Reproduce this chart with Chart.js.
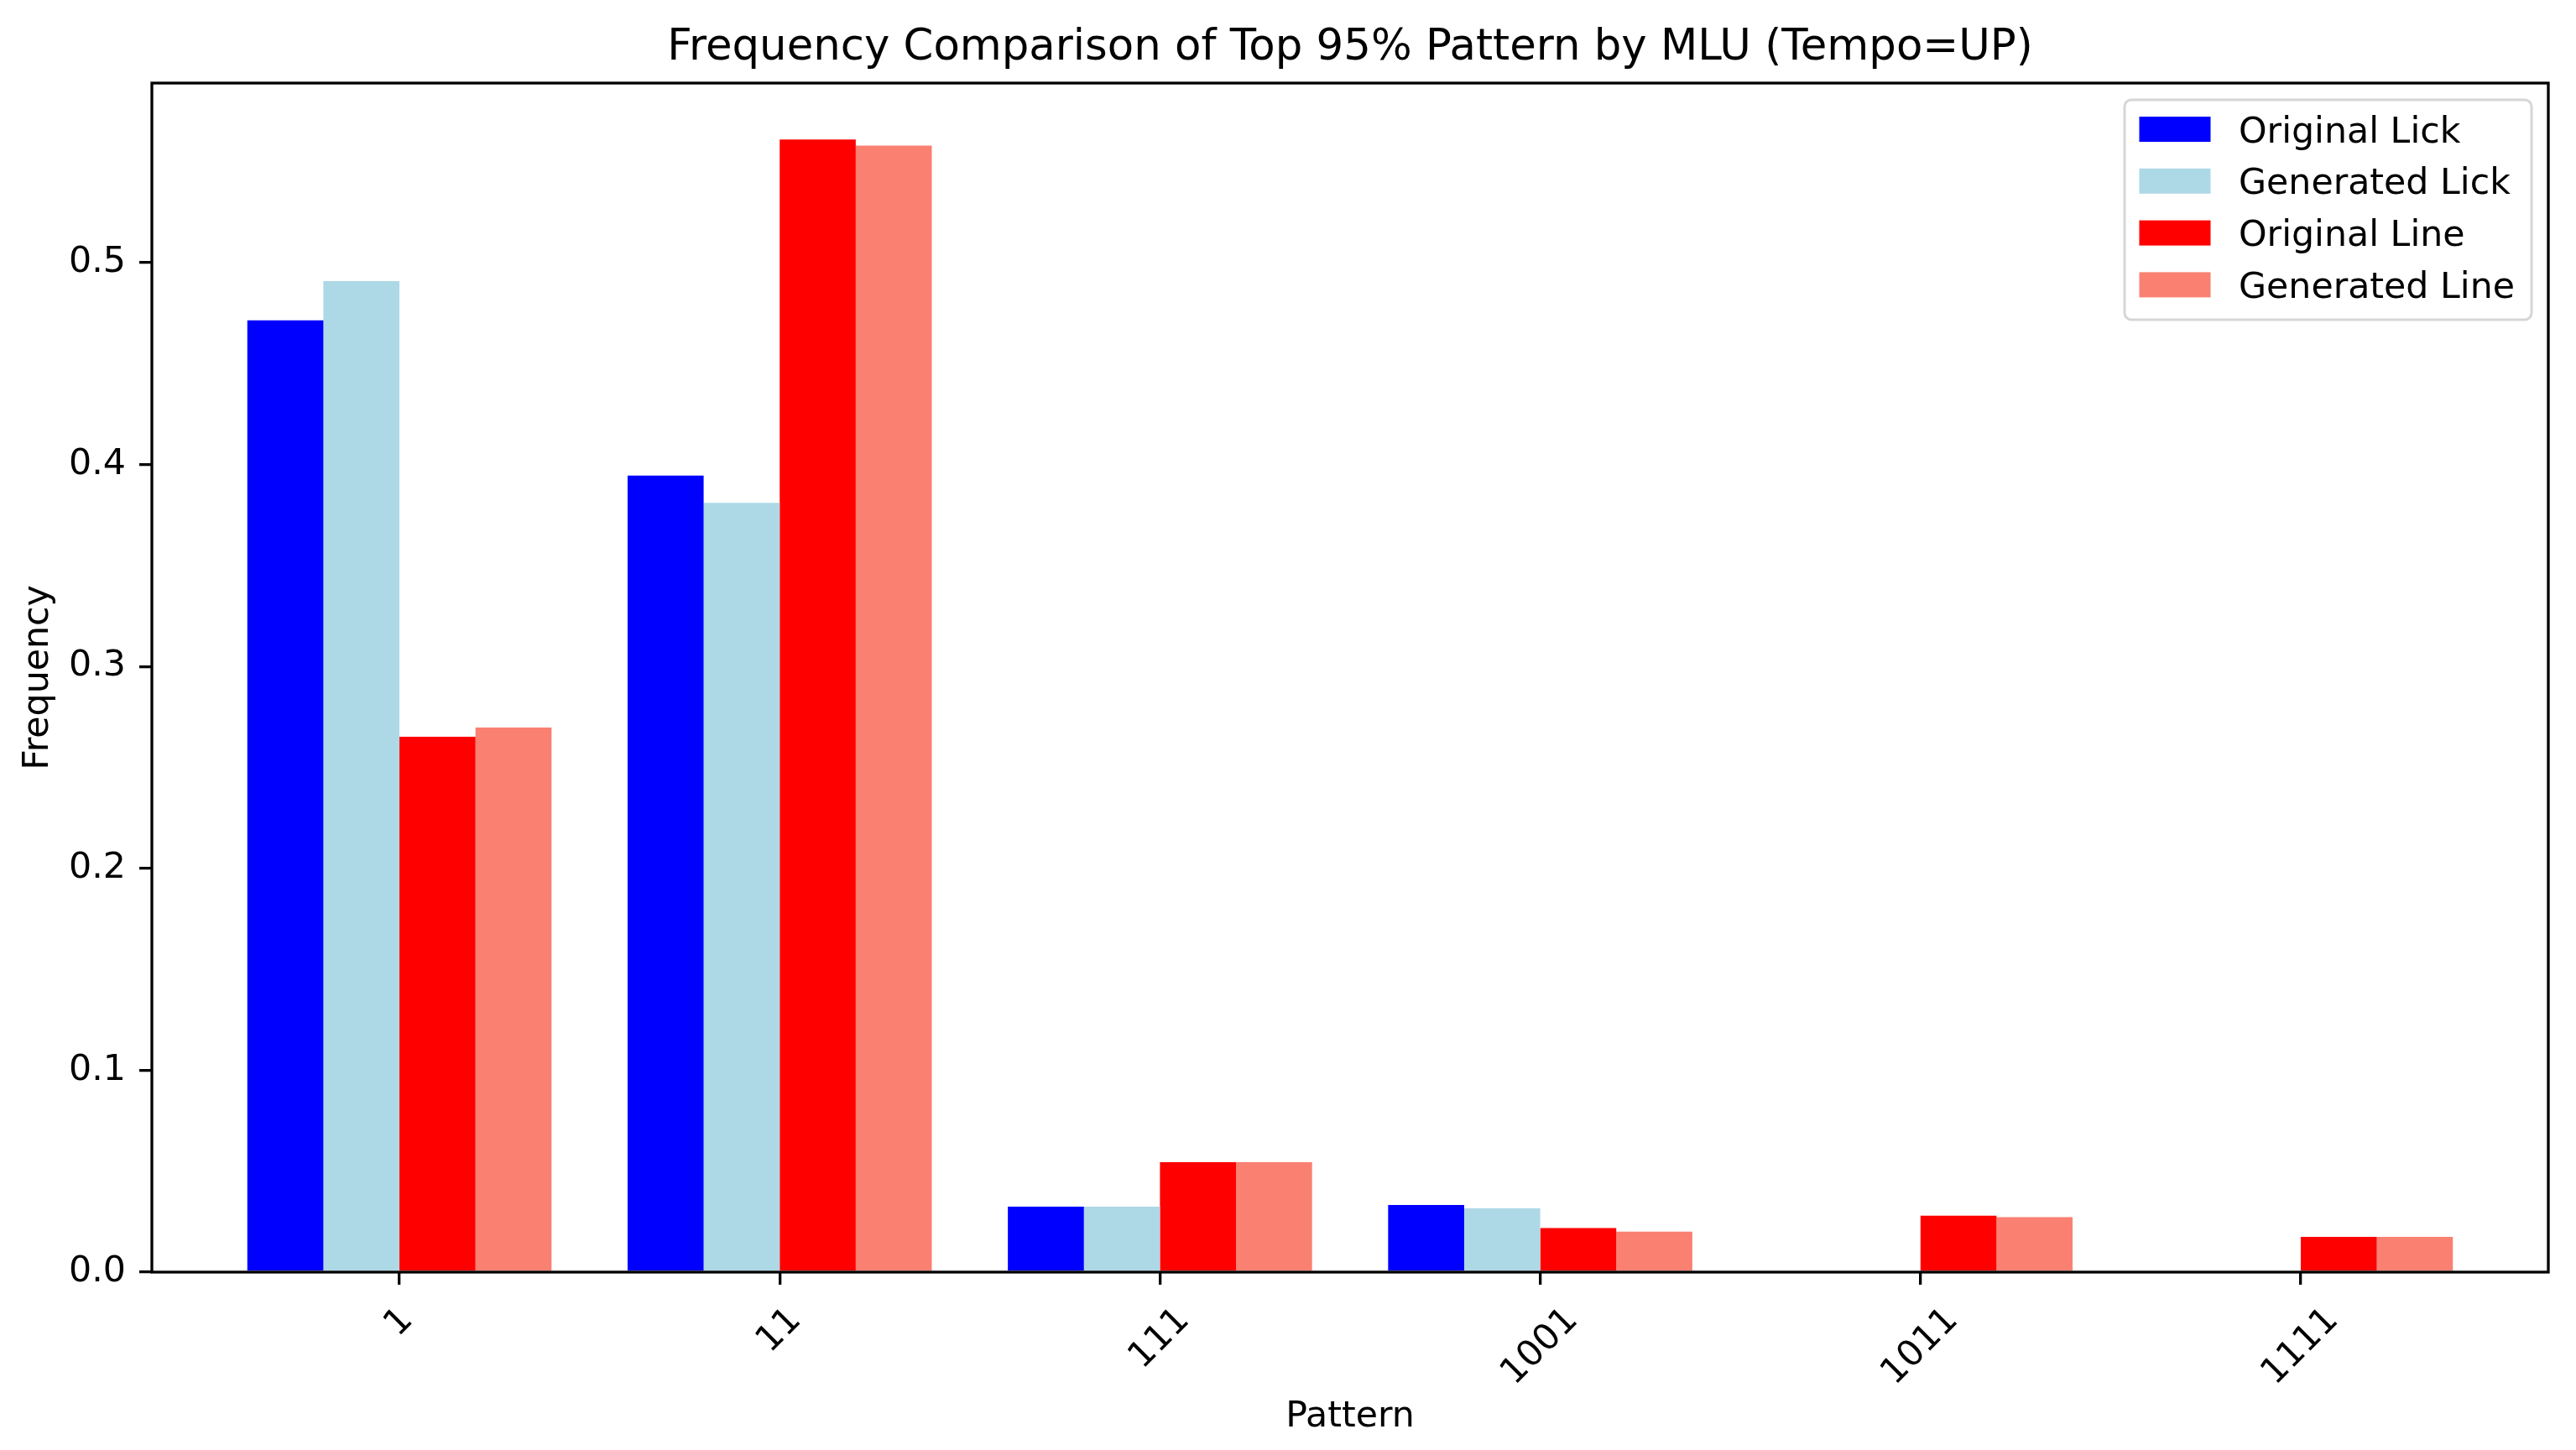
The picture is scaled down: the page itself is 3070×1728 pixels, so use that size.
<!DOCTYPE html>
<html>
<head>
<meta charset="utf-8">
<script src="https://cdn.jsdelivr.net/npm/chart.js@4.4.1/dist/chart.umd.min.js"></script>
<style>
  html, body { margin: 0; padding: 0; background: #fff; }
  canvas { display: block; }
</style>
</head>
<body>
<canvas id="chart" width="3070" height="1728"></canvas>
<script>
// Pattern categories on the x axis
const patterns = ["1", "11", "111", "1001", "1011", "1111"];
// Frequencies per series
const originalLick = [0.4715, 0.3946, 0.0324, 0.0333, 0, 0];
const generatedLick = [0.4909, 0.3811, 0.0324, 0.0316, 0, 0];
const originalLine = [0.2652, 0.5610, 0.0545, 0.0218, 0.0280, 0.0175];
const generatedLine = [0.2698, 0.5580, 0.0545, 0.0201, 0.0272, 0.0175];
const seriesNames = ["Original Lick", "Generated Lick", "Original Line", "Generated Line"];
const seriesColors = ["#0000ff", "#add8e6", "#ff0000", "#fa8072"];
const titleText = "Frequency Comparison of Top 95% Pattern by MLU (Tempo=UP)";

const FONT = "DejaVu Sans";
const fontSize = 42.7;

const allSeries = [originalLick, generatedLick, originalLine, generatedLine];

// title, frame, rotated tick labels and legend (matplotlib style)
const mplLook = {
  id: "mplLook",
  afterDatasetsDraw(chart) {
    const { ctx, chartArea: a } = chart;
    ctx.save();
    ctx.strokeStyle = "#000";
    ctx.lineWidth = 3.3;
    ctx.strokeRect(a.left, a.top, a.right - a.left, a.bottom - a.top);
    ctx.restore();
  },
  afterDraw(chart) {
    const { ctx, chartArea: a } = chart;
    const xs = chart.scales.x;
    ctx.save();
    ctx.fillStyle = "#000";

    // title
    ctx.font = `51.3px "${FONT}"`;
    ctx.textAlign = "center";
    ctx.textBaseline = "middle";
    ctx.fillText(titleText, (a.left + a.right) / 2, 58);

    // x tick labels, rotated 45 and centred under the tick
    ctx.font = `${fontSize}px "${FONT}"`;
    const y0 = a.bottom + 15 + 19;
    xs.ticks.forEach((t, i) => {
      const label = patterns[t.value];
      if (label === undefined) return;
      const px = xs.getPixelForTick(i);
      const w = ctx.measureText(label).width;
      const cy = y0 + (w + 48) * Math.SQRT1_2 / 2;
      ctx.save();
      ctx.translate(px, cy);
      ctx.rotate(-Math.PI / 4);
      ctx.textAlign = "center";
      ctx.textBaseline = "middle";
      ctx.fillText(label, 0, 0);
      ctx.restore();
    });

    // legend box in the upper right corner
    const bw = 485, bh = 262;
    const bx = a.right - 20 - bw, by = a.top + 20;
    ctx.beginPath();
    ctx.roundRect(bx, by, bw, bh, 8);
    ctx.fillStyle = "rgba(255,255,255,0.8)";
    ctx.fill();
    ctx.lineWidth = 3;
    ctx.strokeStyle = "#d6d6d6";
    ctx.stroke();
    ctx.textAlign = "left";
    ctx.textBaseline = "alphabetic";
    chart.data.datasets.forEach((ds, i) => {
      const cy = by + 35 + i * 61.8;
      ctx.fillStyle = ds.backgroundColor;
      ctx.fillRect(bx + 17.5, cy - 15, 85, 30);
      ctx.fillStyle = "#000";
      ctx.fillText(ds.label, bx + 136, cy + 15.5);
    });
    ctx.restore();
  }
};

new Chart(document.getElementById("chart"), {
  type: "bar",
  plugins: [mplLook],
  data: {
    datasets: seriesNames.map((name, s) => ({
      label: name,
      backgroundColor: seriesColors[s],
      borderWidth: 0,
      data: allSeries[s].map((v, i) => ({ x: i, y: v })),
      categoryPercentage: 0.8,
      barPercentage: 1.0
    }))
  },
  options: {
    responsive: false,
    devicePixelRatio: 1,
    animation: false,
    layout: { padding: { top: 99, right: 33, left: 0, bottom: 0 } },
    plugins: {
      legend: { display: false },
      title: { display: false },
      tooltip: { enabled: false }
    },
    scales: {
      x: {
        type: "linear",
        min: -0.651,
        max: 5.651,
        offset: false,
        border: { display: false },
        grid: {
          offset: false,
          drawOnChartArea: false,
          drawTicks: true,
          tickLength: 15,
          tickWidth: 3.3,
          tickColor: "#000",
          lineWidth: 3.3,
          color: "#000"
        },
        ticks: {
          stepSize: 1,
          includeBounds: false,
          display: false,
          autoSkip: false,
          callback: (v) => patterns[v]
        },
        title: {
          display: true,
          text: "Pattern",
          color: "#000",
          font: { family: FONT, size: fontSize },
          padding: { top: 0, bottom: 13 }
        },
        afterFit: (scale) => { scale.height = 212; }
      },
      y: {
        min: 0,
        max: 0.589,
        border: { display: false },
        grid: {
          drawOnChartArea: false,
          drawTicks: true,
          tickLength: 15,
          tickWidth: 3.3,
          tickColor: "#000",
          lineWidth: 3.3,
          color: "#000"
        },
        ticks: {
          stepSize: 0.1,
          includeBounds: false,
          autoSkip: false,
          color: "#000",
          padding: 16,
          font: { family: FONT, size: fontSize },
          callback: (v) => Number(v).toFixed(1)
        },
        title: {
          display: true,
          text: "Frequency",
          color: "#000",
          font: { family: FONT, size: fontSize },
          padding: { top: 20, bottom: 0 }
        },
        afterFit: (scale) => { scale.width = 181; }
      }
    }
  }
});
</script>
</body>
</html>
